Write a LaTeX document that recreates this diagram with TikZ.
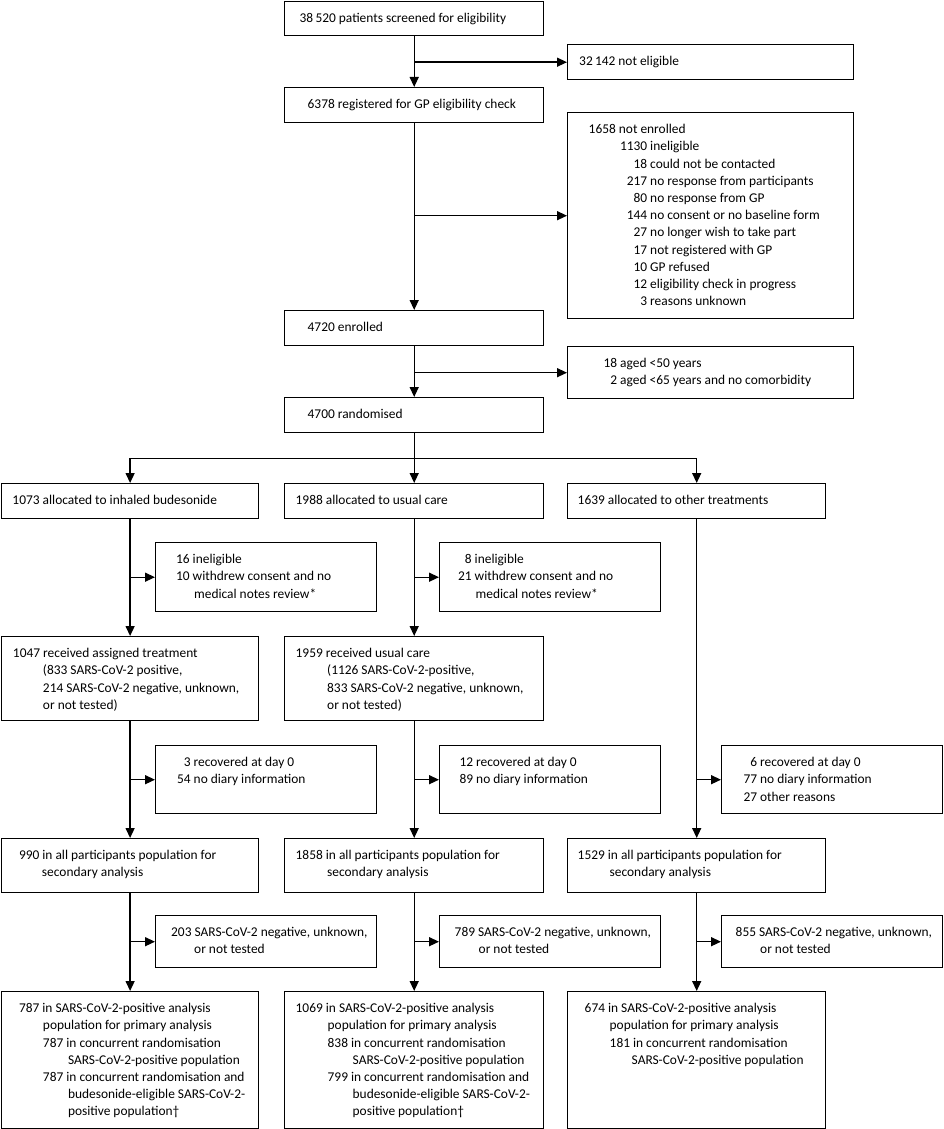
\documentclass[tikz,border=0pt]{standalone}
\usepackage{fontspec}
\setmainfont{Carlito}
\usetikzlibrary{arrows.meta}
\newcommand{\bxt}[4]{\parbox[t][#2][t]{#1}{\fontsize{13.4pt}{17.2pt}\selectfont\raggedright\leftskip=#3\relax\rule{0pt}{21pt}#4}}
\newcommand{\rnum}[2]{\makebox[#1][r]{#2}}
\begin{document}
\begin{tikzpicture}[x=1pt,y=-1pt,
  box/.style={draw, line width=1.4pt, inner sep=0pt, anchor=north west},
  arr/.style={line width=1.4pt, -{Triangle[length=10pt,width=9pt]}},
  ln/.style={line width=1.4pt}]
\useasboundingbox (0,0) rectangle (943,1129);

% top column
\node[box] (b1) at (284,1) {\bxt{259pt}{34pt}{15pt}{38\,520 patients screened for eligibility}};
\node[box] (ne1) at (567,44) {\bxt{286pt}{35pt}{11.5pt}{32\,142 not eligible}};
\node[box] (b2) at (284,87) {\bxt{259pt}{35pt}{23pt}{6378 registered for GP eligibility check}};
\node[box] (ne2) at (567,112) {\bxt{286pt}{206pt}{0pt}{%
\hspace*{21pt}1658 not enrolled\\
\rnum{79.5pt}{1130} ineligible\\
\rnum{79.5pt}{18} could not be contacted\\
\rnum{79.5pt}{217} no response from participants\\
\rnum{79.5pt}{80} no response from GP\\
\rnum{79.5pt}{144} no consent or no baseline form\\
\rnum{79.5pt}{27} no longer wish to take part\\
\rnum{79.5pt}{17} not registered with GP\\
\rnum{79.5pt}{10} GP refused\\
\rnum{79.5pt}{12} eligibility check in progress\\
\rnum{79.5pt}{3} reasons unknown}};
\node[box] (b3) at (284,310) {\bxt{259pt}{35pt}{23pt}{4720 enrolled}};
\node[box] (ne3) at (567,346) {\bxt{286pt}{52pt}{0pt}{%
\rnum{49.5pt}{18} aged <50 years\\
\rnum{49.5pt}{2} aged <65 years and no comorbidity}};
\node[box] (b4) at (284,397) {\bxt{259pt}{35pt}{23pt}{4700 randomised}};

% allocation row
\node[box] (a1) at (0.8,483) {\bxt{257.2pt}{35pt}{11pt}{1073 allocated to inhaled budesonide}};
\node[box] (a2) at (284,483) {\bxt{259pt}{35pt}{11pt}{1988 allocated to usual care}};
\node[box] (a3) at (567,483) {\bxt{258pt}{35pt}{10pt}{1639 allocated to other treatments}};

% exclusions 1
\node[box] (e1a) at (155,542) {\bxt{221pt}{69pt}{0pt}{%
\rnum{34pt}{16} ineligible\\
\rnum{34pt}{10} withdrew consent and no\\
\hspace*{38.5pt}medical notes review*}};
\node[box] (e1b) at (439,542) {\bxt{221pt}{69pt}{0pt}{%
\rnum{32pt}{8} ineligible\\
\rnum{32pt}{21} withdrew consent and no\\
\hspace*{36pt}medical notes review*}};

% received
\node[box] (r1) at (0.8,636) {\bxt{257.2pt}{84pt}{11.5pt}{%
1047 received assigned treatment\\
\hspace*{30pt}(833 SARS-CoV-2 positive,\\
\hspace*{30pt}214 SARS-CoV-2 negative, unknown,\\
\hspace*{30pt}or not tested)}};
\node[box] (r2) at (284,636) {\bxt{259pt}{84pt}{11pt}{%
1959 received usual care\\
\hspace*{31.5pt}(1126 SARS-CoV-2-positive,\\
\hspace*{31.5pt}833 SARS-CoV-2 negative, unknown,\\
\hspace*{31.5pt}or not tested)}};

% exclusions 2
\node[box] (e2a) at (155,745) {\bxt{221pt}{68pt}{0pt}{%
\rnum{35pt}{3} recovered at day 0\\
\rnum{35pt}{54} no diary information}};
\node[box] (e2b) at (439,745) {\bxt{221pt}{68pt}{0pt}{%
\rnum{33.5pt}{12} recovered at day 0\\
\rnum{33.5pt}{89} no diary information}};
\node[box] (e2c) at (721,745) {\bxt{221pt}{68pt}{0pt}{%
\rnum{35.4pt}{6} recovered at day 0\\
\rnum{35.4pt}{77} no diary information\\
\rnum{35.4pt}{27} other reasons}};

% secondary analysis
\node[box] (s1) at (0.8,838) {\bxt{257.2pt}{54pt}{17.5pt}{%
990 in all participants population for\\
\hspace*{23pt}secondary analysis}};
\node[box] (s2) at (284,838) {\bxt{259pt}{54pt}{11pt}{%
1858 in all participants population for\\
\hspace*{31.5pt}secondary analysis}};
\node[box] (s3) at (567,838) {\bxt{258pt}{54pt}{10pt}{%
1529 in all participants population for\\
\hspace*{32pt}secondary analysis}};

% exclusions 3
\node[box] (e3a) at (155,915) {\bxt{221pt}{52pt}{15.5pt}{%
203 SARS-CoV-2 negative, unknown,\\
\hspace*{23pt}or not tested}};
\node[box] (e3b) at (439,915) {\bxt{221pt}{52pt}{15pt}{%
789 SARS-CoV-2 negative, unknown,\\
\hspace*{24pt}or not tested}};
\node[box] (e3c) at (721,915) {\bxt{221pt}{52pt}{14pt}{%
855 SARS-CoV-2 negative, unknown,\\
\hspace*{24.5pt}or not tested}};

% primary analysis
\node[box] (p1) at (0.8,991) {\bxt{257.2pt}{137pt}{17.5pt}{%
787 in SARS-CoV-2-positive analysis\\
\hspace*{24pt}population for primary analysis\\
\hspace*{24pt}787 in concurrent randomisation\\
\hspace*{49pt}SARS-CoV-2-positive population\\
\hspace*{24pt}787 in concurrent randomisation and\\
\hspace*{49pt}budesonide-eligible SARS-CoV-2-\\
\hspace*{49pt}positive population\textdagger}};
\node[box] (p2) at (284,991) {\bxt{259pt}{137pt}{11pt}{%
1069 in SARS-CoV-2-positive analysis\\
\hspace*{32pt}population for primary analysis\\
\hspace*{32pt}838 in concurrent randomisation\\
\hspace*{57pt}SARS-CoV-2-positive population\\
\hspace*{32pt}799 in concurrent randomisation and\\
\hspace*{57pt}budesonide-eligible SARS-CoV-2-\\
\hspace*{57pt}positive population\textdagger}};
\node[box] (p3) at (567,991) {\bxt{258pt}{137pt}{17pt}{%
674 in SARS-CoV-2-positive analysis\\
\hspace*{25pt}population for primary analysis\\
\hspace*{25pt}181 in concurrent randomisation\\
\hspace*{47pt}SARS-CoV-2-positive population}};

% connectors, top column
\draw[arr] (b1.south) -- (b2.north);
\draw[arr] (b1.south |- ne1.west) -- (ne1.west);
\draw[arr] (b2.south) -- (b3.north);
\draw[arr] (b2.south |- ne2.west) -- (ne2.west);
\draw[arr] (b3.south) -- (b4.north);
\draw[arr] (b3.south |- ne3.west) -- (ne3.west);
\path (b4.south) ++(0,25) coordinate (split);
\draw[ln] (b4.south) -- (split);
\draw[arr] (split) -| (a1.north);
\draw[arr] (split) -- (a2.north);
\draw[arr] (split) -| (a3.north);

% column 1
\draw[arr] (a1.south) -- (r1.north);
\draw[arr] (a1.south |- e1a.west) -- (e1a.west);
\draw[arr] (r1.south) -- (s1.north);
\draw[arr] (r1.south |- e2a.west) -- (e2a.west);
\draw[arr] (s1.south) -- (p1.north);
\draw[arr] (s1.south |- e3a.west) -- (e3a.west);

% column 2
\draw[arr] (a2.south) -- (r2.north);
\draw[arr] (a2.south |- e1b.west) -- (e1b.west);
\draw[arr] (r2.south) -- (s2.north);
\draw[arr] (r2.south |- e2b.west) -- (e2b.west);
\draw[arr] (s2.south) -- (p2.north);
\draw[arr] (s2.south |- e3b.west) -- (e3b.west);

% column 3
\draw[arr] (a3.south) -- (s3.north);
\draw[arr] (a3.south |- e2c.west) -- (e2c.west);
\draw[arr] (s3.south) -- (p3.north);
\draw[arr] (s3.south |- e3c.west) -- (e3c.west);
\end{tikzpicture}
\end{document}
